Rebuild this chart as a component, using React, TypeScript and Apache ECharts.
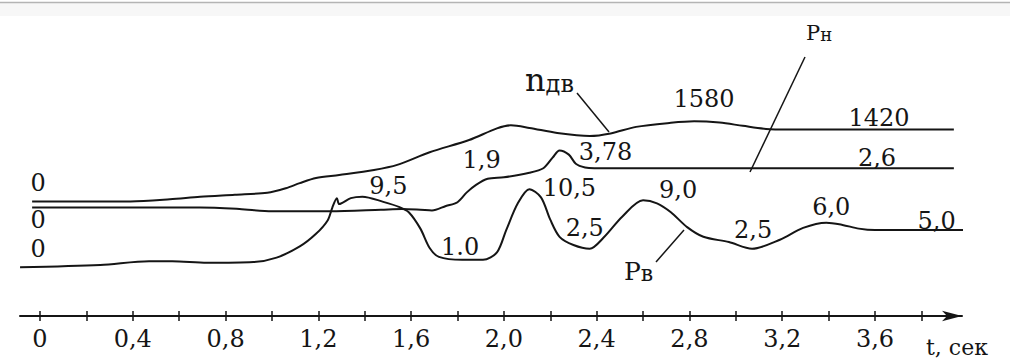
import { useEffect, useRef } from 'react';
import * as echarts from 'echarts';

// Engine speed n_дв, rpm, as [t (s), value]
const engineSpeed: [number, number][] = [
  [-0.034, 0], [0.17, 0], [0.39, 0], [0.56, 40], [0.69, 90], [0.84, 130], [0.98, 170],
  [1.06, 260], [1.12, 360], [1.19, 460], [1.29, 520], [1.44, 620], [1.54, 720],
  [1.68, 970], [1.85, 1210], [1.97, 1440], [2.03, 1500], [2.11, 1450], [2.23, 1350],
  [2.37, 1290], [2.46, 1340], [2.57, 1470], [2.72, 1550], [2.82, 1580], [2.93, 1555],
  [3.03, 1490], [3.13, 1430], [3.23, 1420], [3.94, 1420],
];

// Pump pressure Pн
const pumpPressure: [number, number][] = [
  [-0.034, 0], [0.69, 0], [0.86, -0.1], [1.0, -0.25], [1.25, -0.25], [1.47, -0.15],
  [1.56, -0.1], [1.64, -0.15], [1.69, -0.2], [1.75, 0.1], [1.8, 0.35], [1.84, 1.0],
  [1.88, 1.5], [1.93, 1.9], [2.0, 2.0], [2.11, 2.3], [2.17, 2.6], [2.21, 3.3],
  [2.24, 3.78], [2.28, 3.5], [2.31, 2.9], [2.35, 2.65], [2.39, 2.6], [3.94, 2.6],
];

// Control pressure Pв
const controlPressure: [number, number][] = [
  [-0.086, 0], [0.26, 0.3], [0.47, 0.8], [0.57, 0.8], [0.72, 0.6], [0.92, 0.7],
  [1.02, 1.3], [1.12, 2.8], [1.19, 4.5], [1.24, 6.3], [1.26, 8.0], [1.28, 9.3],
  [1.29, 8.5], [1.34, 9.3], [1.39, 9.5], [1.48, 8.8], [1.55, 8.1], [1.59, 7.4],
  [1.64, 5.2], [1.68, 2.6], [1.72, 1.4], [1.82, 1.0], [1.91, 1.0], [1.97, 2.0],
  [2.01, 5.0], [2.06, 8.6], [2.11, 10.5], [2.16, 9.4], [2.2, 6.4], [2.24, 4.1],
  [2.3, 3.0], [2.37, 2.5], [2.43, 4.0], [2.51, 6.8], [2.6, 9.0], [2.66, 8.6],
  [2.72, 7.4], [2.79, 5.4], [2.86, 4.1], [2.97, 3.4], [3.07, 2.5], [3.19, 3.7],
  [3.29, 5.3], [3.39, 6.0], [3.46, 5.7], [3.53, 5.2], [3.6, 5.0], [3.98, 5.0],
];

// Time axis ticks and labels, s
const timeTicks = [0, 0.2, 0.4, 0.6, 0.8, 1.0, 1.2, 1.4, 1.6, 1.8, 2.0, 2.2, 2.4, 2.6, 2.8, 3.0, 3.2, 3.4, 3.6, 3.8];
const timeLabels = [0, 0.4, 0.8, 1.2, 1.6, 2.0, 2.4, 2.8, 3.2, 3.6];

// Value callouts: [t, value, text]
const engineSpeedNotes: [number, number, string][] = [
  [-0.034, 0, '0'], [2.82, 1580, '1580'], [3.6, 1420, '1420'],
];
const pumpPressureNotes: [number, number, string][] = [
  [-0.034, 0, '0'], [1.93, 1.9, '1,9'], [2.24, 3.78, '3,78'], [3.6, 2.6, '2,6'],
];
const controlPressureNotes: [number, number, string][] = [
  [-0.086, 0, '0'], [1.39, 9.5, '9,5'], [1.82, 1.0, '1.0'], [2.11, 10.5, '10,5'],
  [2.37, 2.5, '2,5'], [2.6, 9.0, '9,0'], [3.07, 2.5, '2,5'], [3.39, 6.0, '6,0'],
  [3.87, 5.0, '5,0'],
];

// Label placement relative to each callout point, px
const engineSpeedNoteOffsets = [[6, -18], [10, -22], [4, -11]];
const pumpPressureNoteOffsets = [[6, 12], [-6, -19], [46, 2], [2, -10]];
const controlPressureNoteOffsets = [
  [18, -18], [26, -11], [-2, -13], [40, -1], [-5, -21], [35, -10], [1, -19], [5, -16], [-1, -9],
];

const FONT = 'DejaVu Serif';
const INK = '#151515';

// Layout of the plotting area, px
const GRID_LEFT = 20;
const GRID_RIGHT_EDGE = 962;
const GRID_TOP = 10;
const GRID_BOTTOM_EDGE = 316;
const WIDTH = 1010;
const HEIGHT = 359;

// Axis extent so that v0 sits at pixel p0 and v1 at pixel p1
function extent(v0: number, p0: number, v1: number, p1: number, pA: number, pB: number) {
  const k = (p1 - p0) / (v1 - v0);
  const a = v0 + (pA - p0) / k;
  const b = v0 + (pB - p0) / k;
  return { min: Math.min(a, b), max: Math.max(a, b) };
}

const fmt = (v: number) => (v === 0 ? '0' : v.toFixed(1).replace('.', ','));

function notesToMarks(notes: [number, number, string][], offsets: number[][]) {
  return {
    symbol: 'circle',
    symbolSize: 1,
    silent: true,
    itemStyle: { color: 'rgba(0,0,0,0)' },
    data: notes.map(([t, v, text], i) => ({
      coord: [t, v],
      value: v,
      label: {
        show: true,
        position: 'inside',
        offset: offsets[i],
        formatter: text,
        color: INK,
        fontFamily: FONT,
        fontSize: 24,
        align: 'center',
        verticalAlign: 'middle',
      },
    })),
  };
}

export default function App() {
  const ref = useRef<HTMLDivElement>(null);

  useEffect(() => {
    if (!ref.current) return;
    const chart = echarts.init(ref.current, undefined, { renderer: 'svg' });

    const xr = extent(0, 40, 3.6, 875, GRID_LEFT, GRID_RIGHT_EDGE);
    const ySpeed = extent(0, 201.4, 1580, 121.3, GRID_BOTTOM_EDGE, GRID_TOP);
    const yPump = extent(0, 207.5, 3.78, 150.4, GRID_BOTTOM_EDGE, GRID_TOP);
    const yCtrl = extent(0, 267.3, 10.5, 189.2, GRID_BOTTOM_EDGE, GRID_TOP);

    const lineStyle = { color: INK, width: 2 };
    const baseSeries = {
      type: 'line',
      showSymbol: false,
      smooth: 0.3,
      clip: false,
      silent: true,
      lineStyle,
    };

    const sub = (main: number, small: number) => ({
      a: { fontSize: main, fontFamily: FONT, fill: INK, color: INK, verticalAlign: 'bottom' },
      b: { fontSize: small, fontFamily: FONT, fill: INK, color: INK, verticalAlign: 'bottom' },
    });

    chart.setOption({
      animation: false,
      backgroundColor: '#ffffff',
      textStyle: { fontFamily: FONT },
      grid: {
        left: GRID_LEFT,
        right: WIDTH - GRID_RIGHT_EDGE,
        top: GRID_TOP,
        bottom: HEIGHT - GRID_BOTTOM_EDGE,
        containLabel: false,
      },
      xAxis: [
        {
          type: 'value',
          min: xr.min,
          max: xr.max,
          position: 'bottom',
          splitLine: { show: false },
          axisLine: {
            show: true,
            onZero: false,
            symbol: ['none', 'arrow'],
            symbolSize: [8, 20],
            lineStyle: { color: INK, width: 2 },
          },
          axisTick: {
            show: true,
            length: 5,
            customValues: timeTicks,
            lineStyle: { color: INK, width: 1.5 },
          },
          axisLabel: {
            show: true,
            customValues: timeLabels,
            formatter: (v: number) => fmt(v),
            color: INK,
            fontFamily: FONT,
            fontSize: 24,
            margin: 11,
          },
        },
        {
          type: 'value',
          min: xr.min,
          max: xr.max,
          position: 'bottom',
          splitLine: { show: false },
          axisLine: { show: false, onZero: false },
          axisTick: {
            show: true,
            inside: true,
            length: 5,
            customValues: timeTicks,
            lineStyle: { color: INK, width: 1.5 },
          },
          axisLabel: { show: false },
        },
      ],
      yAxis: [
        { type: 'value', show: false, min: ySpeed.min, max: ySpeed.max, splitLine: { show: false } },
        { type: 'value', show: false, min: yPump.min, max: yPump.max, splitLine: { show: false } },
        { type: 'value', show: false, min: yCtrl.min, max: yCtrl.max, splitLine: { show: false } },
      ],
      series: [
        {
          ...baseSeries,
          name: 'nдв',
          yAxisIndex: 0,
          data: engineSpeed,
          markPoint: notesToMarks(engineSpeedNotes, engineSpeedNoteOffsets),
        },
        {
          ...baseSeries,
          name: 'Pн',
          yAxisIndex: 1,
          data: pumpPressure,
          markPoint: notesToMarks(pumpPressureNotes, pumpPressureNoteOffsets),
        },
        {
          ...baseSeries,
          name: 'Pв',
          yAxisIndex: 2,
          data: controlPressure,
          markPoint: notesToMarks(controlPressureNotes, controlPressureNoteOffsets),
        },
      ],
      graphic: [
        // frame strip along the top edge
        { type: 'rect', silent: true, shape: { x: 0, y: 3, width: WIDTH, height: 13 }, style: { fill: '#f7f7f7' } },
        { type: 'line', silent: true, shape: { x1: 0, y1: 2.5, x2: WIDTH, y2: 2.5 }, style: { stroke: '#b4b4b4', lineWidth: 1.5 } },
        // series names with leader lines
        {
          type: 'text',
          silent: true,
          x: 525,
          y: 96,
          style: { text: '{a|n}{b|дв}', rich: sub(32, 24), verticalAlign: 'bottom', fill: INK, fontFamily: FONT },
        },
        { type: 'line', silent: true, shape: { x1: 577, y1: 93, x2: 609, y2: 132 }, style: { stroke: INK, lineWidth: 1.5 } },
        {
          type: 'text',
          silent: true,
          x: 806,
          y: 43,
          style: { text: '{a|P}{b|н}', rich: sub(21, 18), verticalAlign: 'bottom', fill: INK, fontFamily: FONT },
        },
        { type: 'line', silent: true, shape: { x1: 805, y1: 57, x2: 750, y2: 172 }, style: { stroke: INK, lineWidth: 1.5 } },
        {
          type: 'text',
          silent: true,
          x: 624,
          y: 284,
          style: { text: '{a|P}{b|в}', rich: sub(25, 22), verticalAlign: 'bottom', fill: INK, fontFamily: FONT },
        },
        { type: 'line', silent: true, shape: { x1: 656, y1: 262, x2: 684, y2: 230 }, style: { stroke: INK, lineWidth: 1.5 } },
        // time axis caption
        {
          type: 'text',
          silent: true,
          x: 926,
          y: 347,
          style: { text: 't, сек', fontSize: 22, fontFamily: FONT, fill: INK, verticalAlign: 'middle', align: 'left' },
        },
      ],
    });

    return () => chart.dispose();
  }, []);

  return (
    <div
      ref={ref}
      style={{ position: 'absolute', left: 0, top: 0, width: WIDTH, height: HEIGHT, background: '#fff' }}
    />
  );
}
